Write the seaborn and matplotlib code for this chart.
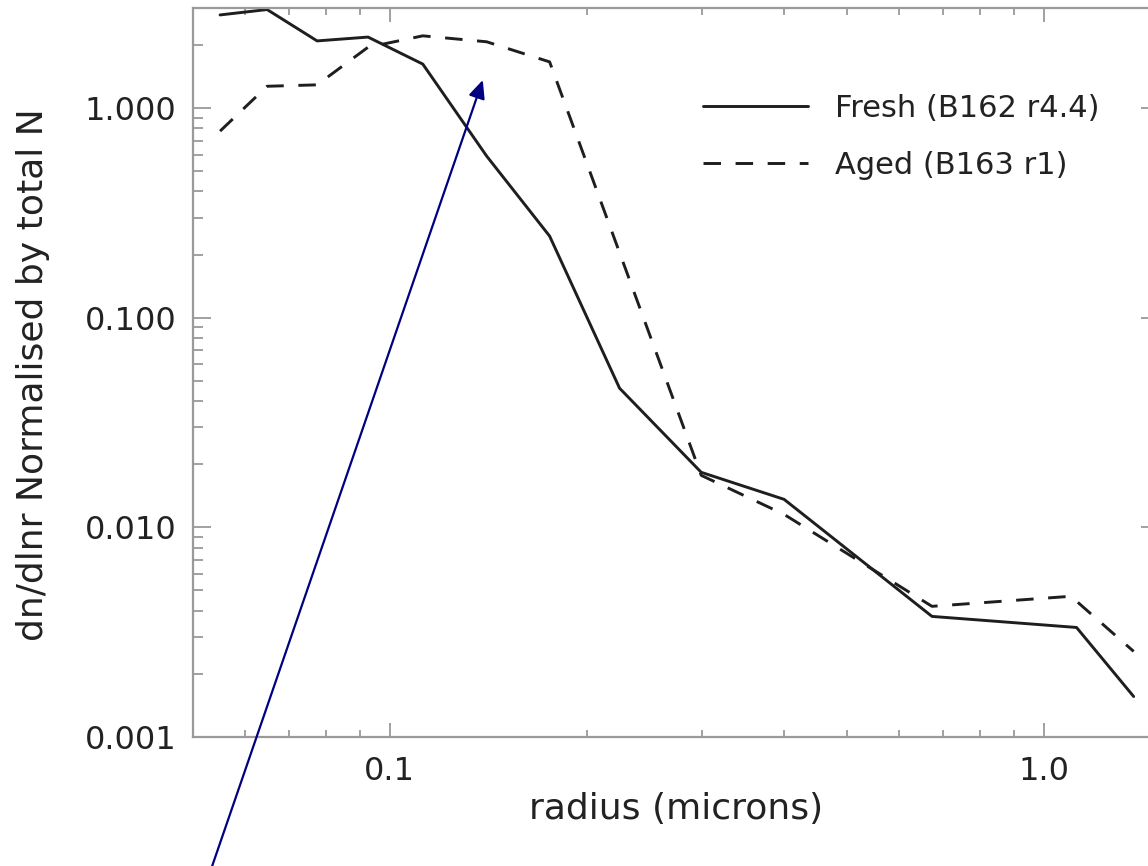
import numpy as np
import pandas as pd
import matplotlib
matplotlib.use("Agg")
import matplotlib.pyplot as plt
import seaborn as sns
from matplotlib.ticker import LogLocator, FixedLocator, FuncFormatter, NullFormatter

# ---------------- data ----------------
fresh_r = [0.0550, 0.0649, 0.0774, 0.0926, 0.1123, 0.1406, 0.1755, 0.2245,
           0.2993, 0.4007, 0.6745, 1.122, 1.372]
fresh_n = [2.78, 2.95, 2.09, 2.18, 1.62, 0.59, 0.245, 0.0461,
           0.0183, 0.0136, 0.00376, 0.00333, 0.00156]

aged_r = [0.0550, 0.0649, 0.0774, 0.0926, 0.1123, 0.1406, 0.1755,
          0.2993, 0.4007, 0.6745, 1.10, 1.372]
aged_n = [0.776, 1.27, 1.29, 1.95, 2.21, 2.07, 1.66,
          0.0177, 0.01153, 0.0042, 0.00469, 0.00256]

fresh_label = "Fresh (B162 r4.4)"
aged_label = "Aged (B163 r1)"
x_label = "radius (microns)"
y_label = "dn/dlnr Normalised by total N"

x_ticks = [0.1, 1.0]
x_tick_labels = ["0.1", "1.0"]
y_ticks = [0.001, 0.01, 0.1, 1.0]
y_tick_labels = ["0.001", "0.010", "0.100", "1.000"]

arrow_tip = (0.1387, 1.36)      # data coords
arrow_tail = (207, -15)         # figure pixels

# ---------------- style ----------------
sns.set_theme(style="ticks")
plt.rcParams["font.family"] = ["DejaVu Sans"]
spine_c = "#9a9a9a"
text_c = "#222222"
line_c = "#1e1e1e"

fig = plt.figure(figsize=(11.48, 8.66), dpi=100)
ax = fig.add_axes([193 / 1148, (866 - 737) / 866, (1159 - 193) / 1148, (737 - 8) / 866])

df_f = pd.DataFrame({"r": fresh_r, "n": fresh_n})
df_a = pd.DataFrame({"r": aged_r, "n": aged_n})

sns.lineplot(data=df_f, x="r", y="n", ax=ax, color=line_c, lw=2.1,
             sort=False, estimator=None, label=fresh_label)
sns.lineplot(data=df_a, x="r", y="n", ax=ax, color=line_c, lw=2.1,
             sort=False, estimator=None, label=aged_label,
             linestyle=(0, (6.0, 5.0)))

ax.set_xscale("log")
ax.set_yscale("log")
ax.set_xlim(0.05, 1.5)
ax.set_ylim(0.001, 3.0)

ax.xaxis.set_major_locator(FixedLocator(x_ticks))
ax.xaxis.set_major_formatter(FuncFormatter(lambda v, p: x_tick_labels[x_ticks.index(v)] if v in x_ticks else ""))
ax.xaxis.set_minor_locator(LogLocator(base=10, subs=np.arange(2, 10)))
ax.xaxis.set_minor_formatter(NullFormatter())
ax.yaxis.set_major_locator(FixedLocator(y_ticks))
ax.yaxis.set_major_formatter(FuncFormatter(lambda v, p: y_tick_labels[int(round(np.log10(v))) + 3]))
ax.yaxis.set_minor_locator(LogLocator(base=10, subs=np.arange(2, 10)))
ax.yaxis.set_minor_formatter(NullFormatter())

for s in ax.spines.values():
    s.set_color(spine_c)
    s.set_linewidth(1.6)
    s.set_visible(True)

ax.tick_params(axis="both", which="both", direction="in", top=True, right=True,
               color=spine_c, labelcolor=text_c, width=1.3)
ax.tick_params(axis="y", which="major", length=13, labelsize=23, pad=12)
ax.tick_params(axis="y", which="minor", length=7)
ax.tick_params(axis="x", which="major", length=10, labelsize=23, pad=14)
ax.tick_params(axis="x", which="minor", length=5)

ax.set_xlabel(x_label, fontsize=26, color=text_c, labelpad=3)
ax.set_ylabel(y_label, fontsize=26, color=text_c)
ax.yaxis.set_label_coords(-0.148, 0.497)
ax.grid(False)

leg = ax.legend(loc="upper left", bbox_to_anchor=(703 / 1148, (866 - 94) / 866),
                bbox_transform=fig.transFigure, frameon=False, fontsize=22,
                handlelength=3.45, handletextpad=0.88, labelspacing=0.92,
                borderpad=0, borderaxespad=0)
for t in leg.get_texts():
    t.set_color(text_c)

ax.annotate("", xy=arrow_tip, xycoords="data",
            xytext=arrow_tail, textcoords="figure pixels",
            annotation_clip=False,
            arrowprops=dict(arrowstyle="-|>,head_length=0.55,head_width=0.25",
                            mutation_scale=20, color="#000080", lw=1.6,
                            shrinkA=0, shrinkB=0))

fig.savefig("out.png", dpi=100)
